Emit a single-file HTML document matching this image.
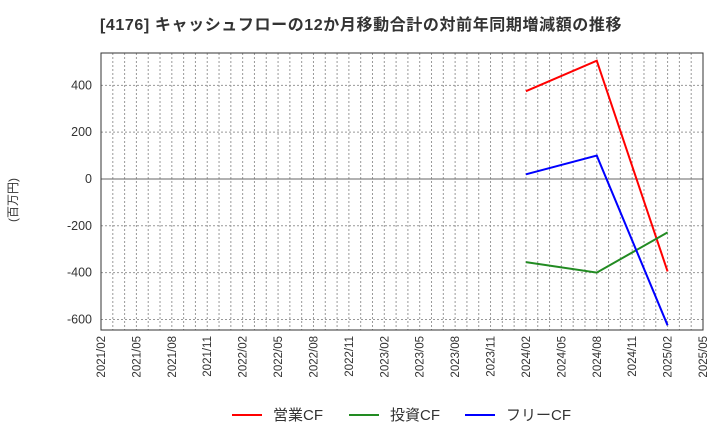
<!DOCTYPE html>
<html><head><meta charset="utf-8"><style>
body{margin:0;background:#fff;font-family:"Liberation Sans","Noto Sans CJK JP",sans-serif}
</style></head><body>
<svg id="c" width="720" height="440" xmlns="http://www.w3.org/2000/svg">
<text x="100" y="30" font-size="16" font-weight="bold" letter-spacing="0.6" fill="#333" font-family="Liberation Sans,Noto Sans CJK JP,sans-serif">[4176]  キャッシュフローの12か月移動合計の対前年同期増減額の推移</text>
<text transform="translate(17,200) rotate(-90)" font-size="12" fill="#333" text-anchor="middle" font-family="Liberation Sans,Noto Sans CJK JP,sans-serif">(百万円)</text>
<g id="grid"></g><g id="axes"></g><g id="series"></g><g id="legend"></g>
</svg>
<script>
const xLabels=["2021/02","2021/05","2021/08","2021/11","2022/02","2022/05","2022/08","2022/11","2023/02","2023/05","2023/08","2023/11","2024/02","2024/05","2024/08","2024/11","2025/02","2025/05"];
const yTicks=[400,200,0,-200,-400,-600];
const dates=["2024/02","2024/08","2025/02"];
const opCF=[375,505,-395];
const invCF=[-355,-400,-228];
const freeCF=[20,100,-625];
const NS="http://www.w3.org/2000/svg";
const L=101,R=703,T=53,B=330,yMax=538,yMin=-645;
function mi(d){const [y,m]=d.split("/").map(Number);return (y-2021)*12+m-2;}
const totalM=mi("2025/05");
function X(d){return L+(R-L)*mi(d)/totalM;}
function XM(m){return L+(R-L)*m/totalM;}
function Y(v){return T+(B-T)*(yMax-v)/(yMax-yMin);}
function el(tag,attrs,parent,text){const e=document.createElementNS(NS,tag);for(const k in attrs)e.setAttribute(k,attrs[k]);if(text!==undefined)e.textContent=text;document.getElementById(parent).appendChild(e);return e;}
for(let m=1;m<totalM;m++){const g=el("line",{x1:XM(m),x2:XM(m),y1:T,y2:B,stroke:"#999","stroke-dasharray":"2,2","stroke-width":1},"grid");

}
yTicks.forEach(v=>{const g=el("line",{x1:L,x2:R,y1:Y(v),y2:Y(v),stroke:v===0?"#666":"#999","stroke-dasharray":v===0?"none":"2,2","stroke-width":1},"grid");


const t=el("text",{x:L-9,y:Y(v)+4,"font-size":12.5,fill:"#333","text-anchor":"end"},"axes",String(v));

});
const fr=el("rect",{x:L,y:T,width:R-L,height:B-T,fill:"none",stroke:"#333","stroke-width":1},"axes");


xLabels.forEach(d=>{const x=X(d);const t=el("text",{transform:`translate(${x+4},${B+6}) rotate(-90)`,"font-size":11.5,fill:"#333","text-anchor":"end"},"axes",d);

});
function line(vals,color,name){const pts=dates.map((d,i)=>X(d)+","+Y(vals[i])).join(" ");
const p=el("polyline",{points:pts,fill:"none",stroke:color,"stroke-width":2},"series");

}
line(opCF,"#ff0000","operating-cf-line");
line(invCF,"#228b22","investing-cf-line");
line(freeCF,"#0000ff","free-cf-line");
[["営業CF","#ff0000",232],["投資CF","#228b22",349],["フリーCF","#0000ff",465]].forEach(([n,c,x])=>{
const l=el("line",{x1:x,x2:x+30,y1:415,y2:415,stroke:c,"stroke-width":2},"legend");


const t=el("text",{x:x+41,y:420,"font-size":15,fill:"#333"},"legend",n);

});
</script>
</body></html>
